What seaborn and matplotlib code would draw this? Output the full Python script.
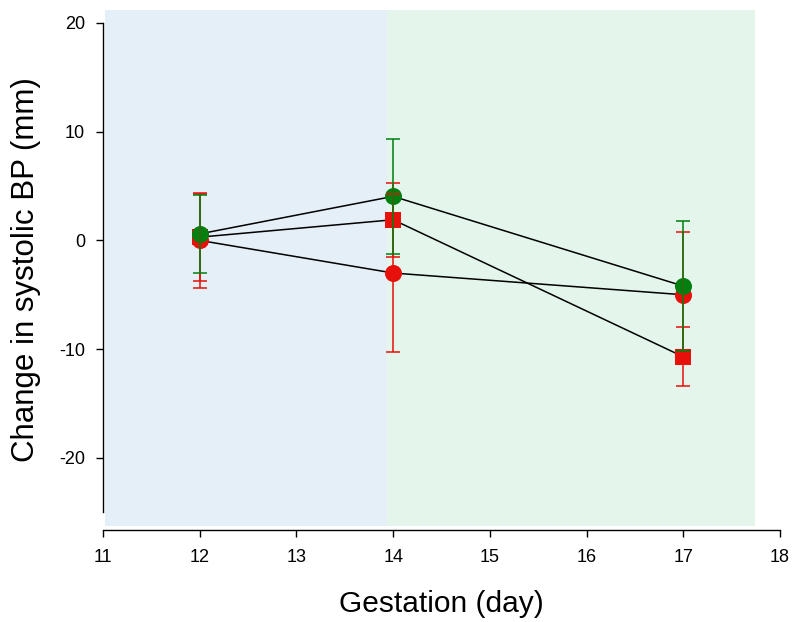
import numpy as np
import pandas as pd
import matplotlib
matplotlib.use("Agg")
import matplotlib.pyplot as plt
import seaborn as sns

# ---- data ----
days = [12, 14, 17]
series_names = ["Red circle", "Red square", "Green circle"]
red_circle_mean = [0.0, -3.0, -5.0]
red_circle_err = [4.4, 7.3, 5.8]
red_square_mean = [0.3, 1.9, -10.7]
red_square_err = [4.0, 3.4, 2.7]
green_circle_mean = [0.6, 4.05, -4.2]
green_circle_err = [3.6, 5.3, 6.0]

x_ticks = [11, 12, 13, 14, 15, 16, 17, 18]
y_ticks = [-20, -10, 0, 10, 20]
phase1_span = (11.02, 13.94)
phase2_span = (13.94, 17.74)

RED = "#e8100a"
GREEN = "#008010"

sns.set_theme(style="white")
plt.rcParams["font.family"] = ["Liberation Sans", "DejaVu Sans"]

df = pd.DataFrame({
    "day": days * 3,
    "change": red_circle_mean + red_square_mean + green_circle_mean,
    "err": red_circle_err + red_square_err + green_circle_err,
    "series": [n for n in series_names for _ in days],
})

fig = plt.figure(figsize=(7.93, 6.22), dpi=100)
ax = fig.add_axes([0.1299, 0.1486, 0.9836 - 0.1299, 0.984 - 0.1486])

ylo, yhi = -26.6, 21.2
ax.fill_between(list(phase1_span), [-26.3, -26.3], [yhi, yhi], color="#e4eff8", lw=0, zorder=0)
ax.fill_between(list(phase2_span), [-26.3, -26.3], [yhi, yhi], color="#e4f5ec", lw=0, zorder=0)

# black connecting lines
sns.lineplot(data=df, x="day", y="change", units="series", estimator=None,
             color="black", lw=1.1, ax=ax, zorder=2, legend=False)

styles = {
    "Red circle": dict(color=RED, marker="o"),
    "Red square": dict(color=RED, marker="s"),
    "Green circle": dict(color=GREEN, marker="o"),
}
for name in series_names:
    sub = df[df["series"] == name]
    st = styles[name]
    sns.scatterplot(x=sub["day"], y=sub["change"], color=st["color"], marker=st["marker"],
                    s=150 if st["marker"] == "o" else 135, linewidth=0, ax=ax, zorder=3, legend=False)
for name in series_names:
    sub = df[df["series"] == name]
    st = styles[name]
    ax.errorbar(sub["day"], sub["change"], yerr=sub["err"], fmt="none",
                ecolor=st["color"], elinewidth=1.3, capsize=5.2, capthick=1.3,
                alpha=0.85, zorder=4)

ax.set_xlim(11, 18)
ax.set_ylim(ylo, yhi)
ax.set_xticks(x_ticks)
ax.set_yticks(y_ticks)
ax.set_xticklabels([str(t) for t in x_ticks], fontsize=13)
ax.set_yticklabels([str(t) for t in y_ticks], fontsize=13)

for s in ["top", "right"]:
    ax.spines[s].set_visible(False)
ax.spines["left"].set_bounds(-25, 20)
ax.spines["left"].set_color("black")
ax.spines["bottom"].set_color("black")
ax.spines["left"].set_linewidth(1.0)
ax.spines["bottom"].set_linewidth(1.0)
ax.tick_params(axis="both", direction="out", length=5, width=1.0, color="black",
               left=True, bottom=True, labelcolor="black")
ax.tick_params(axis="y", pad=8)
ax.tick_params(axis="x", pad=9)

ax.set_xlabel("Gestation (day)", fontsize=21.5, labelpad=17, color="black")
ax.set_ylabel("Change in systolic BP (mm)", fontsize=22.5, labelpad=13, color="black")
ax.grid(False)

fig.savefig("out.png", dpi=100)
